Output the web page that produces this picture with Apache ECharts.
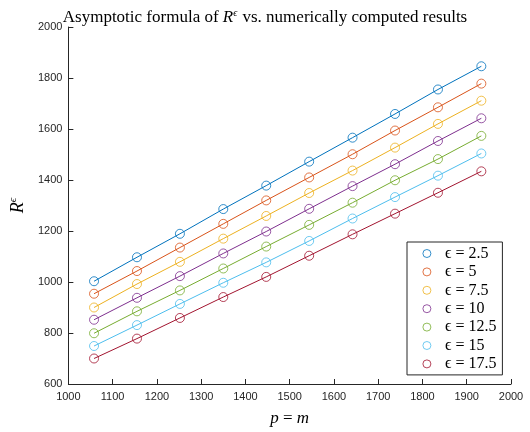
<!DOCTYPE html>
<html>
<head>
<meta charset="utf-8">
<script src="https://cdn.jsdelivr.net/npm/echarts@6/dist/echarts.min.js"></script>
<style>html,body{margin:0;padding:0;background:#fff;}#c{width:530px;height:432px;}</style>
</head>
<body>
<div id="c"></div>
<script>
const xValues = [1058, 1155, 1252, 1350, 1447, 1544, 1642, 1738, 1835, 1933];
const epsLabels = ['2.5', '5', '7.5', '10', '12.5', '15', '17.5'];
const eps2_5  = [1003, 1097, 1189, 1286, 1378, 1472, 1566, 1659, 1755, 1846];
const eps5    = [954, 1043, 1135, 1228, 1320, 1410, 1501, 1594, 1685, 1778];
const eps7_5  = [900, 992, 1079, 1170, 1259, 1349, 1437, 1527, 1620, 1711];
const eps10   = [852, 938, 1023, 1112, 1198, 1287, 1376, 1462, 1553, 1642];
const eps12_5 = [799, 885, 967, 1053, 1139, 1224, 1311, 1399, 1482, 1573];
const eps15   = [749, 831, 914, 997, 1077, 1161, 1249, 1333, 1417, 1504];
const eps17_5 = [700, 778, 859, 941, 1020, 1103, 1187, 1268, 1350, 1434];
const xTicks = {min: 1000, max: 2000, interval: 100};
const yTicks = {min: 600, max: 2000, interval: 200};

const allSeries = [eps2_5, eps5, eps7_5, eps10, eps12_5, eps15, eps17_5];
const colors = ['#0072BD', '#D95319', '#EDB120', '#7E2F8E', '#77AC30', '#4DBEEE', '#A2142F'];
const serif = '"Liberation Serif", "DejaVu Serif", serif';
const sans = '"Liberation Sans", Arial, sans-serif';

const series = [];
allSeries.forEach((vals, i) => {
  const data = vals.map((v, j) => [xValues[j], v]);
  series.push({
    type: 'line', name: 'line' + i, data: data, showSymbol: false, silent: true,
    lineStyle: {color: colors[i], width: 1}, z: 2
  });
  series.push({
    type: 'scatter', name: 'ϵ = ' + epsLabels[i], data: data,
    symbol: 'circle', symbolSize: 9,
    itemStyle: {color: 'rgba(255,255,255,0)', borderColor: colors[i], borderWidth: 1}, z: 3
  });
});

const chart = echarts.init(document.getElementById('c'), null, {renderer: 'canvas'});
chart.setOption({
  animation: false,
  backgroundColor: '#fff',
  title: {
    text: '{n|Asymptotic formula of }{i|R}{s|ϵ}{n| vs. numerically computed results}',
    left: 'center', top: 3,
    textStyle: {
      fontWeight: 'normal',
      rich: {
        n: {fontFamily: serif, fontSize: 17, fontWeight: 'normal', color: '#000'},
        i: {fontFamily: serif, fontSize: 17, fontWeight: 'normal', fontStyle: 'italic', color: '#000'},
        s: {fontFamily: serif, fontSize: 10, fontWeight: 'normal', fontStyle: 'italic', color: '#000', padding: [0, 1, 9, 0]}
      }
    }
  },
  grid: {left: 58, right: 19, top: 27, bottom: 42, containLabel: false},
  legend: {
    data: epsLabels.map(e => 'ϵ = ' + e),
    orient: 'vertical', left: 407, top: 242,
    icon: 'circle',
    itemWidth: 26, itemHeight: 8, itemGap: 2.4,
    itemStyle: {color: 'rgba(255,255,255,0)', borderColor: 'inherit', borderWidth: 1},
    padding: [3.5, 6, 3, 15.4],
    borderColor: '#262626', borderWidth: 1, backgroundColor: '#fff',
    textStyle: {fontFamily: serif, fontSize: 16, color: '#000', lineHeight: 14}
  },
  xAxis: {
    type: 'value', min: xTicks.min, max: xTicks.max, interval: xTicks.interval,
    name: '{i|p} = {i|m}', nameLocation: 'middle', nameGap: 26,
    nameTextStyle: {fontFamily: serif, fontSize: 17, color: '#000',
      rich: {i: {fontFamily: serif, fontSize: 17, fontStyle: 'italic', color: '#000'}}},
    axisLine: {show: true, lineStyle: {color: '#262626', width: 1}},
    axisTick: {show: true, inside: true, length: 5, lineStyle: {color: '#262626'}},
    axisLabel: {fontFamily: sans, fontSize: 11, color: '#262626', margin: 7, formatter: v => String(v)},
    splitLine: {show: false}
  },
  yAxis: {
    type: 'value', min: yTicks.min, max: yTicks.max, interval: yTicks.interval,
    name: '{i|R}{s|ϵ}', nameLocation: 'middle', nameGap: 40, nameRotate: 90,
    nameTextStyle: {
      rich: {
        i: {fontFamily: serif, fontSize: 18, fontStyle: 'italic', color: '#000'},
        s: {fontFamily: serif, fontSize: 11, fontStyle: 'italic', color: '#000', padding: [0, 0, 9, 0]}
      }
    },
    axisLine: {show: true, lineStyle: {color: '#262626', width: 1}},
    axisTick: {show: true, inside: true, length: 5, lineStyle: {color: '#262626'}},
    axisLabel: {fontFamily: sans, fontSize: 11, color: '#262626', margin: 6, formatter: v => String(v)},
    splitLine: {show: false}
  },
  series: series
});
</script>
</body>
</html>
